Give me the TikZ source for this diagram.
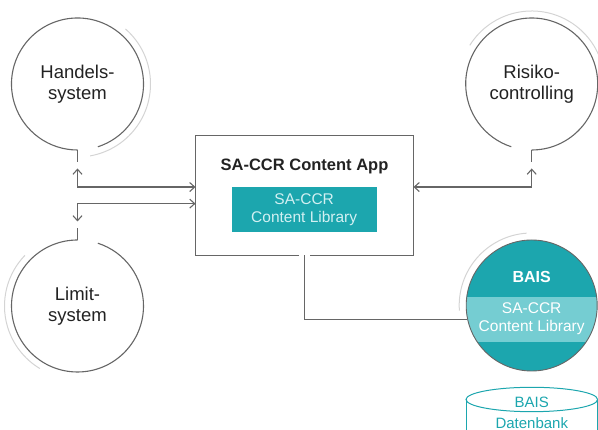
\documentclass[tikz,border=0pt]{standalone}
\usepackage{fontspec}
\setmainfont{Liberation Sans}
\usetikzlibrary{arrows.meta,calc}
\definecolor{teal1}{HTML}{1CA6AE}
\definecolor{teal2}{HTML}{75CDD2}
\definecolor{linegrey}{HTML}{666666}
\definecolor{arcgrey}{HTML}{D4D4D4}
\definecolor{pale}{HTML}{D2F0F2}
\definecolor{txt}{HTML}{222222}
\begin{document}
\begin{tikzpicture}[x=1pt,y=1pt,
  sysnode/.style={circle, minimum size=132pt, inner sep=0pt, align=center,
    font=\fontsize{18.5}{21.5}\selectfont, text=txt},
  darkline/.style={draw=linegrey, line width=1.1pt},
  greyarc/.style={draw=arcgrey, line width=1pt},
  barb/.tip={Straight Barb[length=5pt,width=9pt]},
  arr/.style={darkline, barb-barb},
  libtext/.style={align=center, font=\fontsize{15.5}{18}\selectfont},
]
\useasboundingbox (0,0) rectangle (598,430);
\clip (0,0) rectangle (598,430);

% system circles
\node[sysnode] (H) at (77.5,346) {Handels-\\system};
\node[sysnode] (R) at (531.7,346) {Risiko-\\controlling};
\node[sysnode] (L) at (77.5,124) {Limit-\\system};

\draw[darkline] ([shift={(-72:66pt)}]H.center) arc[start angle=-72, end angle=270, radius=66pt];
\draw[greyarc] ([shift={(49:73pt)}]H.center) arc[start angle=49, end angle=-80, radius=73pt];
\draw[darkline] ([shift={(-90:66pt)}]R.center) arc[start angle=-90, end angle=252, radius=66pt];
\draw[greyarc] ([shift={(148:73pt)}]R.center) arc[start angle=148, end angle=15, radius=73pt];
\draw[darkline] ([shift={(90:66pt)}]L.center) arc[start angle=90, end angle=432, radius=66pt];
\draw[greyarc] ([shift={(136:73pt)}]L.center) arc[start angle=136, end angle=239, radius=73pt];

% central box
\node[minimum width=217.6pt, minimum height=119.3pt, inner sep=0pt] (box) at (304.5,234.65) {};
\draw[darkline] ([xshift=-5.5pt]box.south) -- (box.south west) -- (box.north west)
  -- (box.north east) -- (box.south east) -- ([xshift=5.5pt]box.south);
\node[font=\bfseries\fontsize{16.5}{19}\selectfont, text=txt] (title) at (304.5,264) {SA-CCR Content App};
\node[libtext, fill=teal1, text=pale, minimum width=145pt, minimum height=44.4pt, inner sep=0pt]
  (lib) at (304.2,220.5) {SA-CCR\\Content Library};

% BAIS circle
\node[circle, minimum size=131pt, inner sep=0pt, fill=teal1] (B) at (531.7,124.5) {};
\begin{scope}
  \clip (B.center) circle[radius=65.5pt];
  \fill[teal2] (460,87.7) rectangle (600,133.3);
\end{scope}
\draw[draw=linegrey, line width=0.9pt] (B.center) circle[radius=65.5pt];
\draw[greyarc] ([shift={(94:72.5pt)}]B.center) arc[start angle=94, end angle=184, radius=72.5pt];
\node[font=\bfseries\fontsize{16}{19}\selectfont, text=white] (btitle) at (531.7,153.3) {BAIS};
\node[libtext, text=white] (blib) at (531.7,111.2) {SA-CCR\\Content Library};

% database
\draw[teal1, line width=1pt] (466,-5) -- (466,30.5);
\draw[teal1, line width=1pt] (597.5,-5) -- (597.5,30.5);
\draw[teal1, line width=1pt] (531.8,30.5) ellipse[x radius=65.8pt, y radius=12.2pt];
\node[anchor=base, inner sep=0pt, text=teal1, font=\fontsize{15}{18}\selectfont] (db1) at (531.8,22.3) {BAIS};
\node[anchor=base, inner sep=0pt, text=teal1, font=\fontsize{15}{18}\selectfont] (db2) at (531.8,1.2) {Datenbank};

% connectors
\draw[darkline] (H.south) -- ++(0,-12pt);
\draw[darkline] (R.south) -- ++(0,-12pt);
\draw[darkline] (L.north) -- ++(0,12pt);
\draw[arr] ([yshift=-18.3pt]H.south) |- ([yshift=8.3pt]box.west);
\draw[arr] ([yshift=-8.3pt]box.west) -| ([yshift=18.3pt]L.north);
\draw[arr] ([yshift=-18.3pt]R.south) |- ([yshift=8.3pt]box.east);
\draw[darkline] (box.south) |- (B.192);
\end{tikzpicture}
\end{document}
